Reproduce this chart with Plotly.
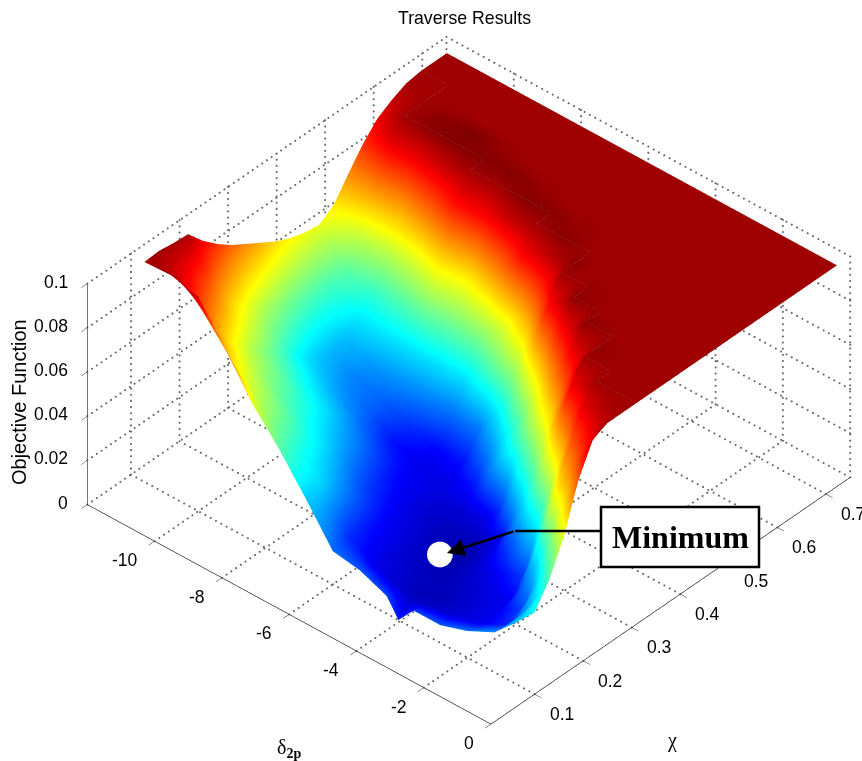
import numpy as np
import plotly.graph_objects as go

delta_vals = [-11.6, -10.8, -10.0, -9.2, -8.4, -7.6, -6.8, -6.0, -5.2, -4.4, -4.05, -3.6, -2.8, -2.0, -1.2, -0.6, 0.0]
chi_vals = [.10, .13, .16, .19, .22, .25, .28, .31, .34, .37, .40, .43, .46, .49, .52, .55, .58, .61, .64, .67, .70, .723]

col_m116 = [.0995, .100, .099, .0985, .091, .085, .080, .076, .072, .068, .065, .063, .062, .0665, .076, .085, .092, .096, .099, .100, .100, .100]
col_m108 = [.100, .092, .085, .078, .070, .064, .058, .054, .050, .047, .045, .045, .048, .058, .076, .093, .100, .100, .100, .100, .100, .100]
col_m100 = [.097, .078, .068, .061, .055, .050, .044, .038, .034, .032, .032, .036, .043, .056, .074, .092, .102, .102, .100, .100, .100, .100]
col_m92 = [.080, .064, .058, .052, .048, .042, .037, .032, .028, .026, .029, .036, .046, .060, .080, .097, .1025, .1033, .100, .100, .100, .100]
col_m84 = [.062, .054, .050, .044, .040, .036, .031, .026, .023, .023, .028, .036, .050, .068, .090, .100, .1025, .101, .100, .100, .100, .100]
col_m76 = [.048, .043, .040, .036, .031, .027, .023, .018, .014, .018, .026, .036, .050, .065, .090, .100, .1025, .100, .100, .100, .100, .100]
col_m68 = [.032, .035, .030, .025, .020, .017, .014, .012, .011, .013, .023, .036, .053, .075, .097, .1025, .101, .100, .100, .100, .100, .100]
col_m60 = [.015, .018, .016, .014, .012, .010, .009, .009, .010, .015, .025, .048, .062, .090, .100, .102, .100, .100, .100, .100, .100, .100]
col_m52 = [.013, .011, .009, .008, .007, .006, .006, .008, .016, .028, .042, .060, .080, .097, .102, .101, .100, .100, .100, .100, .100, .100]
col_m44 = [.008, .007, .006, .005, .004, .003, .005, .011, .035, .046, .065, .088, .100, .102, .100, .100, .100, .100, .100, .100, .100, .100]
col_m40 = [.000, .006, .005, .005, .005, .005, .007, .018, .042, .056, .075, .094, .100, .100, .100, .100, .100, .100, .100, .100, .100, .100]
col_m36 = [.008, .006, .005, .006, .007, .009, .012, .036, .054, .070, .088, .102, .101, .100, .100, .100, .100, .100, .100, .100, .100, .100]
col_m28 = [.008, .008, .008, .009, .012, .022, .040, .058, .075, .092, .102, .100, .100, .100, .100, .100, .100, .100, .100, .100, .100, .100]
col_m20 = [.012, .011, .011, .012, .020, .042, .068, .090, .100, .101, .100, .100, .100, .100, .100, .100, .100, .100, .100, .100, .100, .100]
col_m12 = [.018, .017, .020, .036, .062, .078, .092, .100, .100, .100, .100, .100, .100, .100, .100, .100, .100, .100, .100, .100, .100, .100]
col_m06 = [.027, .030, .042, .060, .078, .090, .098, .100, .100, .100, .100, .100, .100, .100, .100, .100, .100, .100, .100, .100, .100, .100]
col_00 = [.037, .047, .062, .083, .097, .100, .100, .100, .100, .100, .100, .100, .100, .100, .100, .100, .100, .100, .100, .100, .100, .100]
# colour read along the front edge, which is lighter than its height would give
front_edge_colour = [.0995, .100, .097, .080, .062, .048, .034, .024, .022, .020, .015, .020, .022, .025, .028, .032, .039]

delta_ticks = [-10, -8, -6, -4, -2, 0]
chi_ticks = [.1, .2, .3, .4, .5, .6, .7]
z_ticks = [0, .02, .04, .06, .08, .1]
delta_range = [-12, 0]
chi_range = [.01, .75]
z_range = [0, .1]
# The minimum, lifted along the line of sight so the surface does not hide the marker.
min_delta, min_chi, min_z = -3.36, .137, .03

W, H = 862, 761
Z = np.array([col_m116, col_m108, col_m100, col_m92, col_m84, col_m76, col_m68, col_m60,
              col_m52, col_m44, col_m40, col_m36, col_m28, col_m20, col_m12, col_m06, col_00]).T
C = Z.copy()
C[0] = front_edge_colour

jet = [[0, "rgb(0,0,143)"], [.125, "rgb(0,0,255)"], [.375, "rgb(0,255,255)"],
       [.625, "rgb(255,255,0)"], [.875, "rgb(255,0,0)"], [1, "rgb(128,0,0)"]]

fig = go.Figure()
fig.add_surface(x=delta_vals, y=chi_vals, z=np.minimum(Z, .1), surfacecolor=C, cmin=0, cmax=.1033,
                colorscale=jet, showscale=False, hoverinfo="skip",
                lighting=dict(ambient=1, diffuse=0, specular=0, roughness=1, fresnel=0))

xmin, xmax = delta_range; ymin, ymax = chi_range; zmin, zmax = z_range
gx, gy, gz = [], [], []
def dots(p, q):
    # dotted gridline: one small marker about every 6 pixels
    n = int(max(abs(p[0]-q[0])/(xmax-xmin)*76, abs(p[1]-q[1])/(ymax-ymin)*76, abs(p[2]-q[2])/(zmax-zmin)*36)) + 1
    gx.extend(np.linspace(p[0], q[0], n)); gy.extend(np.linspace(p[1], q[1], n)); gz.extend(np.linspace(p[2], q[2], n))
for d in delta_ticks[:-1] + [xmin]:
    dots((d, ymin, zmin), (d, ymax, zmin)); dots((d, ymax, zmin), (d, ymax, zmax))
dots((xmax, ymax, zmin), (xmax, ymax, zmax))
for c in chi_ticks + [ymax]:
    dots((xmin, c, zmin), (xmax, c, zmin)); dots((xmin, c, zmin), (xmin, c, zmax))
for t in z_ticks[1:]:
    dots((xmin, ymin, t), (xmin, ymax, t)); dots((xmin, ymax, t), (xmax, ymax, t))
fig.add_scatter3d(x=gx, y=gy, z=gz, mode="markers", hoverinfo="skip", showlegend=False,
                  marker=dict(color="#666666", size=1.2, line=dict(width=0)))

fig.add_scatter3d(x=[min_delta], y=[min_chi], z=[min_z], mode="markers", hoverinfo="skip",
                  showlegend=False, marker=dict(color="white", size=15, line=dict(width=0)))

ax = dict(showgrid=False, zeroline=False, showbackground=False, showspikes=False, showline=True,
          linecolor="#222222", linewidth=1.5, ticks="outside", ticklen=9, tickcolor="#222222",
          tickwidth=1, showticklabels=False, title=dict(text=""))
tick_font = dict(family="Liberation Sans", size=17.5, color="black")
def tick(text, x, y, z, anchor, xshift, yshift):
    return dict(text=text, x=x, y=y, z=z, showarrow=False, xanchor=anchor, yanchor="middle",
                xshift=xshift, yshift=yshift, font=tick_font)
tick_labels = ([tick(str(v), v, ymin, zmin, "right", -15, -19) for v in delta_ticks]
               + [tick(str(v), xmax, v, zmin, "left", 13, -20) for v in chi_ticks]
               + [tick(str(v), xmin, ymin, v, "right", -17, 2) for v in z_ticks])

def label(text, px, py, family="Liberation Sans", size=17, **kw):
    return dict(text=text, x=px/W, y=1-py/H, xref="paper", yref="paper", showarrow=False,
                xanchor="center", yanchor="middle", font=dict(family=family, size=size, color="black"), **kw)
fig.update_layout(
    width=W, height=H, margin=dict(l=0, r=0, t=0, b=0), paper_bgcolor="white", showlegend=False,
    scene=dict(
        domain=dict(x=[0, 1], y=[0, 1]),
        xaxis=dict(ax, range=delta_range, tickvals=delta_ticks),
        yaxis=dict(ax, range=chi_range, tickvals=chi_ticks),
        zaxis=dict(ax, range=z_range, tickvals=z_ticks),
        aspectmode="manual", aspectratio=dict(x=1.42, y=1.42, z=.734),
        camera=dict(projection=dict(type="orthographic"), up=dict(x=0, y=0, z=1),
                    center=dict(x=-.074, y=-.066, z=0), eye=dict(x=1.05-.074, y=-1.18-.066, z=1.22)),
        annotations=tick_labels,
    ),
    annotations=[
        label("Traverse Results", 464, 18, size=17.7),
        label("Objective Function", 19, 402, size=20, textangle=-90),
        label("δ<sub><b>2p</b></sub>", 289, 748, family="Liberation Serif", size=20),
        label("χ", 672, 740, family="Liberation Serif", size=20),
        label("<b>Minimum</b>", 680, 537, family="Liberation Serif", size=32),
        dict(text="", x=447/W, y=1-553/H, xref="paper", yref="paper", ax=68, ay=-22,
             showarrow=True, arrowhead=2, arrowsize=1.4, arrowwidth=2.5, arrowcolor="black"),
    ],
    shapes=[
        dict(type="rect", xref="paper", yref="paper", x0=601/W, x1=759/W, y0=1-507/H, y1=1-567/H,
             fillcolor="white", line=dict(color="black", width=2.5)),
        dict(type="line", xref="paper", yref="paper", x0=515/W, x1=600/W, y0=1-531/H, y1=1-531/H,
             line=dict(color="black", width=2.5)),
    ],
)
fig.write_html("out.html", post_script="document.body.style.margin='0';", config=dict(displayModeBar=False))
